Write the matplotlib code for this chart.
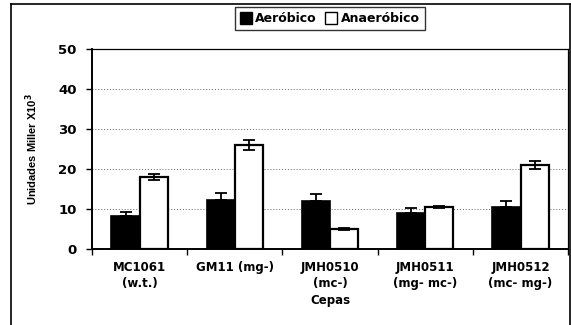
import numpy as np
import matplotlib
matplotlib.use("Agg")
import matplotlib.pyplot as plt
from matplotlib.lines import Line2D

plt.rcParams['font.family'] = ['DejaVu Sans']
plt.rcParams['font.weight'] = 'bold'

# data
cepas = ['MC1061\n(w.t.)', 'GM11 (mg-)', 'JMH0510\n(mc-)', 'JMH0511\n(mg- mc-)', 'JMH0512\n(mc- mg-)']
aerobico = [8.2, 12.2, 12.0, 9.0, 10.5]
aerobico_err = [1.0, 1.8, 1.8, 1.2, 1.6]
anaerobico = [18.0, 26.0, 5.0, 10.5, 21.0]
anaerobico_err = [0.7, 1.2, 0.3, 0.3, 1.0]

fig = plt.figure(figsize=(5.71, 3.25), dpi=100)
ax = fig.add_axes([0.161, 0.234, 0.834, 0.615])

x = np.arange(len(cepas))
w = 0.295
ax.bar(x - w / 2, aerobico, w, color='black', edgecolor='black', linewidth=1.2, zorder=3)
ax.bar(x + w / 2, anaerobico, w, color='white', edgecolor='black', linewidth=1.6, zorder=3)
# black bars hide the lower half of their error bars
ax.errorbar(x - w / 2, aerobico, yerr=[np.zeros(len(x)), aerobico_err], fmt='none',
            ecolor='black', elinewidth=1.3, capsize=4.5, capthick=1.3, zorder=4)
ax.errorbar(x + w / 2, anaerobico, yerr=anaerobico_err, fmt='none',
            ecolor='black', elinewidth=1.3, capsize=4.5, capthick=1.3, zorder=4)

ax.set_xlim(-0.5, len(cepas) - 0.5)
ax.set_ylim(0, 50)
ax.set_yticks([0, 10, 20, 30, 40, 50])
ax.set_xticks(x)
ax.set_xticklabels(cepas, fontsize=8.5, fontweight='bold', linespacing=1.25)
ax.tick_params(axis='x', length=0, pad=9)
ax.set_xticks(np.arange(len(cepas) + 1) - 0.5, minor=True)
ax.tick_params(axis='x', which='minor', length=4, width=1, direction='out')
ax.tick_params(axis='y', length=4, width=1, labelsize=9.5, pad=7)
for lab in ax.get_yticklabels():
    lab.set_fontweight('bold')

ax.yaxis.grid(True, linestyle=(0, (1, 2)), color='#666666', linewidth=0.7, zorder=0)
ax.set_axisbelow(True)
for side in ['left', 'bottom']:
    ax.spines[side].set_linewidth(1.4)
for side in ['top', 'right']:
    ax.spines[side].set_linewidth(0.9)

ax.set_ylabel('Unidades Miller X10$^3$', fontsize=8, fontweight='bold', labelpad=13,
              family='Liberation Sans')
ax.set_xlabel('Cepas', fontsize=8.5, fontweight='bold', labelpad=3)

handles = [
    Line2D([], [], marker='s', linestyle='none', markersize=9, markerfacecolor='black',
           markeredgecolor='black', label='Aeróbico'),
    Line2D([], [], marker='s', linestyle='none', markersize=9, markerfacecolor='white',
           markeredgecolor='black', label='Anaeróbico'),
]
leg = fig.legend(handles=handles, loc='center', bbox_to_anchor=(0.578, 0.942), ncol=2,
                 fontsize=9, frameon=True, fancybox=False, edgecolor='black',
                 handlelength=0.9, handletextpad=0.3, columnspacing=0.7, borderpad=0.4)
leg.get_frame().set_linewidth(1.0)
for t in leg.get_texts():
    t.set_fontweight('bold')

# outer chart frame
fig.add_artist(Line2D([0.019, 0.019], [0.0, 0.988], color='black', linewidth=1.2))
fig.add_artist(Line2D([0.019, 0.998], [0.988, 0.988], color='black', linewidth=1.2))
fig.add_artist(Line2D([0.998, 0.998], [0.0, 0.988], color='black', linewidth=1.2))

fig.savefig('out.png', dpi=100)
